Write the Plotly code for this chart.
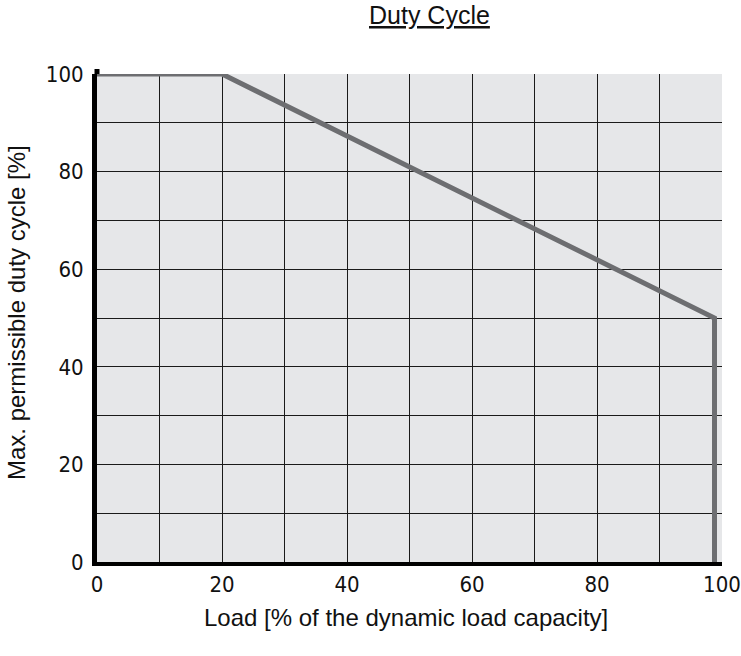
import plotly.graph_objects as go

load = [0, 20, 98.8, 98.8]
duty = [100, 100, 50, 0]
xticks = [0, 20, 40, 60, 80, 100]
yticks = [0, 20, 40, 60, 80, 100]

W, H = 741, 656
L, R, T, B = 97, 19, 74, 94
PW, PH = W - L - R, H - T - B

fig = go.Figure()
fig.add_trace(go.Scatter(x=load, y=duty, mode="lines",
                         line=dict(color="#6d6e71", width=5), hoverinfo="skip"))

tickfont = dict(family="Liberation Sans Narrow, DejaVu Sans Condensed, Roboto", size=22, color="#111")
titlefont = dict(family="Liberation Sans, Arial", size=24, color="#111")
grid = dict(showgrid=True, gridcolor="#1a1a1a", gridwidth=1.2)
fig.update_layout(
    width=W, height=H,
    margin=dict(l=L, r=R, t=T, b=B, autoexpand=False),
    paper_bgcolor="white", plot_bgcolor="#e6e7e9",
    showlegend=False,
    xaxis=dict(range=[0, 100], tickvals=xticks, ticktext=[str(v) for v in xticks],
               tickfont=tickfont, **grid, ticklabeloverflow="allow", automargin=False,
               minor=dict(dtick=10, showgrid=True, gridcolor="#1a1a1a", gridwidth=1.2),
               showline=True, linecolor="black", linewidth=4, zeroline=False,
               ticks=""),
    yaxis=dict(range=[0, 100], tickvals=yticks, ticktext=[str(v) for v in yticks],
               tickfont=tickfont, **grid, ticklabeloverflow="allow", automargin=False,
               minor=dict(dtick=10, showgrid=True, gridcolor="#1a1a1a", gridwidth=1.2),
               showline=True, linecolor="black", linewidth=5, zeroline=False,
               ticks="outside", ticklen=4, tickcolor="rgba(0,0,0,0)"),
    shapes=[dict(type="line", xref="paper", yref="paper", x0=0, x1=0,
                 y0=1, y1=1 + 5 / PH, line=dict(color="black", width=5))],
    annotations=[
        dict(text="<u>Duty Cycle</u>", xref="paper", yref="paper",
             x=(429.5 - L) / PW, y=1.0, yshift=59,
             xanchor="center", yanchor="middle", showarrow=False,
             font=dict(family="Liberation Sans, Arial", size=25, color="#111")),
        dict(text="Load [% of the dynamic load capacity]", xref="paper", yref="paper",
             x=(406 - L) / PW, y=0, yshift=-55, xanchor="center", yanchor="middle",
             showarrow=False, font=titlefont),
        dict(text="Max. permissible duty cycle [%]", xref="paper", yref="paper",
             x=0, xshift=-(L - 16), y=(H - B - 313) / PH, textangle=-90,
             xanchor="center", yanchor="middle", showarrow=False, font=titlefont),
    ],
)
fig.write_html("out.html", config={"displayModeBar": False},
               post_script="document.body.style.margin='0';")
